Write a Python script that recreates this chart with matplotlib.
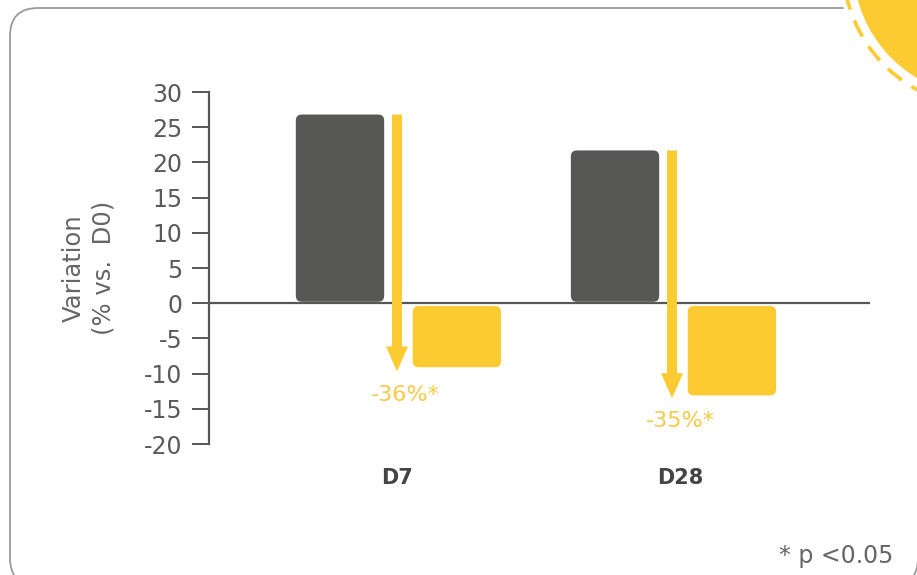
import matplotlib
matplotlib.use("Agg")
import matplotlib.pyplot as plt
from matplotlib.patches import FancyBboxPatch, Circle, Arc

# ----------------------------------------------------------------------------------------------------------------------
#  DATA
# ----------------------------------------------------------------------------------------------------------------------
days          = ["D7", "D28"]
baseline_var  = [26.8, 21.7]      # grey bars
treated_var   = [-9.1, -13.1]     # yellow bars
arrow_tip     = [-9.7, -13.5]
change_labels = ["-36%*", "-35%*"]
y_ticks       = [30, 25, 20, 15, 10, 5, 0, -5, -10, -15, -20]

# ----------------------------------------------------------------------------------------------------------------------
#  STYLE
# ----------------------------------------------------------------------------------------------------------------------
grey       = "#575756"
yellow     = "#FCCB31"
label_yel  = "#F6C94A"
text_grey  = "#5a5a5a"
plt.rcParams["font.family"] = ["DejaVu Sans"]
plt.rcParams["axes.unicode_minus"] = False

W, H = 917, 575
fig = plt.figure(figsize=(W / 100, H / 100), dpi=100)

# background layer in pixel units: frame and sun
bg = fig.add_axes([0, 0, 1, 1], zorder=0)
bg.set_xlim(0, W)
bg.set_ylim(H, 0)
bg.axis("off")
bg.add_patch(FancyBboxPatch((10, 8), 908, 578, boxstyle="round,pad=0,rounding_size=28",
                            facecolor="white", edgecolor="#9a9a9a", linewidth=1.3))
bg.add_patch(Circle((985, -35), 148, facecolor="white", edgecolor="none"))
bg.add_patch(Arc((985, -35), 284, 284, theta1=90, theta2=270, color=yellow,
                 linewidth=2.6, linestyle=(0, (5, 3.2))))
bg.add_patch(Circle((985, -35), 132, facecolor=yellow, edgecolor="none"))

# main chart
ax = fig.add_axes([209 / W, 1 - 444 / H, 661 / W, 352 / H], zorder=1)
ax.patch.set_visible(False)
x_lo, x_hi = -188 / 285, 473 / 285
ax.set_xlim(x_lo, x_hi)
ax.set_ylim(-20, 30)

centres  = [0.0, 0.965]
offset   = 0.21
bar_w    = 0.31
px_x     = 661 / (x_hi - x_lo)
px_y     = 352 / 50
radius   = 6 / px_x
aspect   = px_x / px_y

def rounded_bar(x, bottom, top, color):
    y0, y1 = min(bottom, top), max(bottom, top)
    ax.add_patch(FancyBboxPatch((x - bar_w / 2, y0), bar_w, y1 - y0,
                                boxstyle="round,pad=0,rounding_size=%f" % radius,
                                mutation_aspect=aspect, facecolor=color,
                                edgecolor="none", zorder=2))

for i in range(len(days)):
    c = centres[i]
    rounded_bar(c - offset + 0.01, 0.2, baseline_var[i], grey)
    rounded_bar(c + offset, -0.4, treated_var[i], yellow)
    ax.annotate("", xy=(c, arrow_tip[i]), xytext=(c, baseline_var[i]),
                arrowprops=dict(arrowstyle="simple,head_length=0.5,head_width=0.44,tail_width=0.2",
                                mutation_scale=36, color=yellow, lw=0,
                                shrinkA=0, shrinkB=0), zorder=4)
    ax.text(c + 0.03, arrow_tip[i] - 3.3, change_labels[i], ha="center", va="center",
            fontsize=16, color=label_yel, zorder=5)

ax.axhline(0, color=grey, linewidth=1.6, zorder=3)

for side in ["top", "right", "bottom"]:
    ax.spines[side].set_visible(False)
ax.spines["left"].set_color(grey)
ax.spines["left"].set_linewidth(1.6)

ax.set_yticks(y_ticks)
ax.tick_params(axis="y", direction="out", length=12, width=1.4, color=grey,
               pad=7, labelsize=17, labelcolor=text_grey)
ax.set_xticks([centres[0], centres[1] + 0.03])
ax.set_xticklabels(days, fontsize=15, fontweight="bold", color="#444444")
ax.tick_params(axis="x", length=0, pad=17)

fig.text(89 / W, 1 - 268 / H, "Variation\n(% vs.  D0)", rotation=90, ha="center",
         va="center", multialignment="center", fontsize=17.5, color="#666666",
         linespacing=1.3)
fig.text(836 / W, 1 - 556 / H, "* p <0.05", ha="center", va="center",
         fontsize=17, color="#666666")

fig.savefig("out.png", dpi=100)
